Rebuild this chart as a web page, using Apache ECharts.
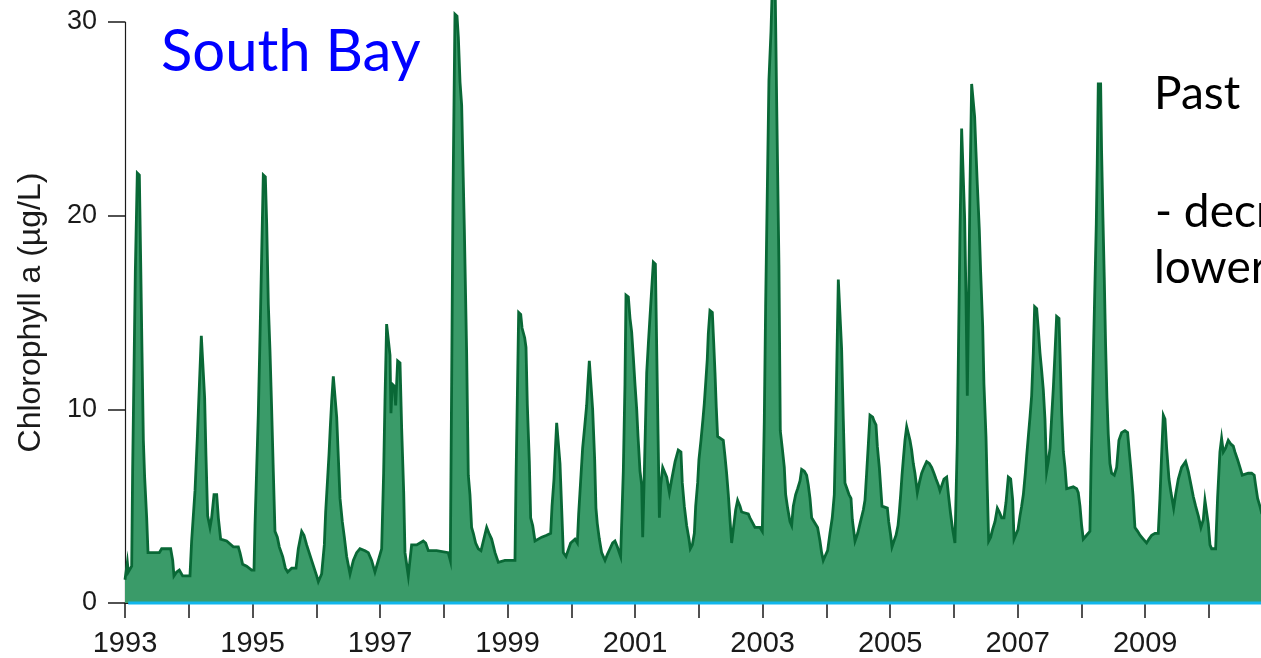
<!DOCTYPE html>
<html>
<head>
<meta charset="utf-8">
<script src="https://cdn.jsdelivr.net/npm/echarts@6/dist/echarts.min.js"></script>
<style>
  html, body { margin: 0; padding: 0; background: #ffffff; }
  #chart { width: 1261px; height: 658px; }
</style>
</head>
<body>
<div id="chart"></div>
<script>
// South Bay surface chlorophyll a, sampling dates as decimal years
const sampleYears = [
  1993.000,1993.037,1993.052,1993.105,1993.120,1993.141,1993.162,1993.193,1993.225,1993.246,1993.267,1993.288,1993.308,1993.340,1993.361,1993.538,1993.575,1993.716,1993.748,1993.768,1993.810,1993.852,1993.904,1994.019,
  1994.045,1994.098,1994.134,1994.166,1994.197,1994.228,1994.249,1994.270,1994.296,1994.333,1994.359,1994.396,1994.438,1994.464,1994.500,1994.594,1994.699,1994.777,1994.803,1994.845,1994.908,1994.986,
  1995.023,1995.039,1995.065,1995.091,1995.117,1995.143,1995.169,1995.201,1995.222,1995.248,1995.274,1995.300,1995.326,1995.352,1995.389,1995.420,1995.473,1995.515,1995.551,1995.614,1995.682,1995.718,1995.771,1995.807,1995.849,1995.927,
  1996.006,1996.032,1996.084,1996.126,1996.147,1996.179,1996.200,1996.220,1996.241,1996.267,1996.293,1996.320,1996.346,1996.372,1996.408,1996.440,1996.476,1996.529,1996.581,1996.633,1996.685,1996.764,1996.816,1996.868,1996.920,1996.973,
  1997.025,1997.056,1997.077,1997.103,1997.129,1997.156,1997.171,1997.192,1997.224,1997.245,1997.276,1997.313,1997.339,1997.371,1997.391,1997.417,1997.443,1997.469,1997.495,1997.574,1997.678,1997.715,1997.757,1997.887,
  1998.070,1998.102,1998.123,1998.144,1998.175,1998.207,1998.228,1998.254,1998.280,1998.322,1998.358,1998.384,1998.410,1998.436,1998.463,1998.499,1998.541,1998.583,1998.620,1998.672,1998.708,1998.750,1998.803,1998.855,1998.959,
  1999.116,1999.132,1999.153,1999.174,1999.206,1999.227,1999.268,1999.289,1999.310,1999.341,1999.362,1999.394,1999.430,1999.535,1999.613,1999.676,1999.697,1999.728,1999.749,1999.770,1999.796,1999.822,1999.848,1999.874,1999.916,1999.989,
  2000.057,2000.094,2000.115,2000.146,2000.177,2000.209,2000.240,2000.261,2000.282,2000.313,2000.334,2000.366,2000.386,2000.407,2000.439,2000.475,2000.528,2000.564,2000.606,2000.648,2000.684,2000.721,2000.773,2000.794,2000.815,2000.841,2000.857,2000.894,2000.920,2000.946,2000.972,2000.998,
  2001.025,2001.046,2001.077,2001.103,2001.119,2001.140,2001.161,2001.182,2001.208,2001.234,2001.260,2001.286,2001.318,2001.339,2001.360,2001.381,2001.402,2001.433,2001.496,2001.538,2001.575,2001.627,2001.677,2001.719,2001.740,2001.772,2001.808,2001.845,2001.866,2001.898,2001.929,2001.950,2001.981,
  2002.001,2002.033,2002.064,2002.085,2002.106,2002.132,2002.148,2002.174,2002.211,2002.232,2002.253,2002.273,2002.294,2002.383,2002.409,2002.435,2002.462,2002.488,2002.514,2002.540,2002.577,2002.608,2002.645,2002.671,2002.775,2002.801,2002.880,2002.958,2002.995,
  2003.026,2003.047,2003.073,2003.099,2003.131,2003.157,2003.194,2003.220,2003.256,2003.277,2003.308,2003.340,2003.361,2003.392,2003.429,2003.455,2003.481,2003.518,2003.549,2003.586,2003.612,2003.654,2003.690,2003.716,2003.743,2003.769,2003.862,2003.899,2003.925,2003.951,2003.977,
  2004.019,2004.056,2004.092,2004.124,2004.145,2004.166,2004.187,2004.218,2004.239,2004.265,2004.291,2004.323,2004.354,2004.386,2004.407,2004.449,2004.491,2004.527,2004.579,2004.605,2004.631,2004.658,2004.684,2004.726,2004.747,2004.778,2004.799,2004.830,2004.851,2004.872,2004.956,2004.977,
  2005.008,2005.029,2005.060,2005.092,2005.123,2005.144,2005.165,2005.186,2005.206,2005.232,2005.259,2005.290,2005.311,2005.337,2005.363,2005.389,2005.426,2005.457,2005.494,2005.530,2005.572,2005.614,2005.651,2005.687,2005.719,2005.755,2005.781,2005.813,2005.844,2005.886,2005.917,2005.948,2005.980,
  2006.016,2006.043,2006.053,2006.074,2006.095,2006.121,2006.147,2006.168,2006.189,2006.210,2006.231,2006.252,2006.278,2006.304,2006.325,2006.346,2006.367,2006.398,2006.419,2006.451,2006.471,2006.503,2006.524,2006.545,2006.576,2006.607,2006.644,2006.681,2006.712,2006.749,2006.785,2006.817,2006.853,2006.890,2006.922,2006.943,2006.974,
  2007.005,2007.036,2007.062,2007.089,2007.120,2007.141,2007.167,2007.193,2007.219,2007.245,2007.266,2007.298,2007.324,2007.350,2007.376,2007.402,2007.428,2007.454,2007.480,2007.507,2007.533,2007.559,2007.585,2007.611,2007.648,2007.664,2007.690,2007.716,2007.742,2007.768,2007.872,2007.925,2007.950,2007.977,
  2008.003,2008.029,2008.081,2008.133,2008.149,2008.170,2008.191,2008.212,2008.233,2008.248,2008.264,2008.301,2008.316,2008.337,2008.358,2008.379,2008.400,2008.421,2008.447,2008.473,2008.515,2008.552,2008.588,2008.630,2008.682,2008.724,2008.745,2008.776,2008.808,2008.839,2008.881,2008.918,2008.970,
  2009.022,2009.059,2009.101,2009.153,2009.205,2009.231,2009.258,2009.284,2009.310,2009.336,2009.373,2009.404,2009.446,2009.477,2009.519,2009.571,2009.634,2009.676,2009.718,2009.754,2009.791,2009.833,2009.874,2009.911,2009.937,2009.963,2009.989,
  2010.016,2010.042,2010.104,2010.136,2010.172,2010.198,2010.225,2010.261,2010.303,2010.345,2010.381,2010.407,2010.449,2010.486,2010.522,2010.616,2010.669,2010.710,2010.731,2010.763,2010.799,2010.830
];

// chlorophyll a, µg/L
const chlorophyll = [
  1.2,2.1,1.6,1.9,6.9,12.0,17.1,22.2,22.1,17.6,12.9,8.4,6.5,4.4,2.6,2.6,2.8,2.8,2.2,1.4,1.6,1.7,1.4,1.4,
  3.2,5.8,8.5,11.2,13.8,13.7,10.6,7.6,4.5,3.9,4.4,5.6,5.6,4.4,3.3,3.2,2.9,2.9,2.6,2.0,1.9,1.7,
  1.7,4.0,6.9,9.8,13.7,17.9,22.1,22.0,19.6,15.4,13.0,10.0,6.8,3.7,3.4,2.9,2.4,1.8,1.6,1.8,1.8,2.8,3.7,3.5,3.0,2.2,
  1.4,1.1,1.5,3.0,4.7,6.5,7.7,9.1,10.4,11.7,11.6,9.6,7.5,5.4,4.2,3.4,2.4,1.5,2.2,2.6,2.8,2.7,2.6,2.2,1.6,2.2,
  2.8,6.7,10.4,14.4,14.3,12.8,9.8,11.3,11.2,10.2,12.5,12.4,9.0,5.7,2.6,2.0,1.4,2.2,3.0,3.0,3.2,3.1,2.7,2.7,
  2.6,2.2,11.4,21.0,30.4,30.3,29.2,26.9,25.7,19.3,12.9,6.6,5.6,3.9,3.6,3.1,2.8,2.7,3.2,3.9,3.6,3.3,2.6,2.1,2.2,
  2.2,6.3,10.6,15.0,14.9,14.2,13.7,13.2,10.2,7.3,4.4,4.0,3.2,3.4,3.5,3.6,5.0,6.4,7.9,9.3,9.2,7.2,4.9,2.6,2.4,3.1,
  3.3,3.1,4.6,6.3,8.0,9.1,10.2,11.4,12.5,12.4,10.0,7.4,4.9,4.1,3.3,2.6,2.2,2.5,2.8,3.1,3.2,2.9,2.4,2.5,6.8,11.3,15.9,15.8,14.7,14.0,12.7,11.3,
  10.0,8.6,6.8,6.1,3.4,6.1,9.0,11.9,13.4,14.8,16.2,17.6,17.5,13.1,8.7,4.4,6.1,7.0,6.5,5.7,6.4,7.3,7.9,7.8,6.2,5.0,4.0,3.3,2.8,3.0,3.6,5.0,6.2,
  7.4,8.4,9.5,10.3,11.3,12.6,13.9,15.1,15.0,13.5,11.9,10.1,8.6,8.4,7.6,6.7,5.6,4.3,3.1,3.8,4.8,5.3,5.0,4.7,4.6,4.4,3.9,3.9,3.7,
  9.4,15.3,21.2,27.0,29.5,32.5,32.5,25.9,17.4,8.9,8.0,7.0,5.6,4.9,4.2,4.0,5.0,5.6,5.9,6.3,6.9,6.8,6.6,6.1,5.4,4.4,3.9,3.2,2.6,2.2,2.4,
  2.7,3.6,4.4,5.6,8.7,12.8,16.7,16.6,13.1,9.5,6.2,5.9,5.6,5.4,4.3,3.2,3.6,4.1,4.8,5.3,6.7,8.2,9.7,9.6,9.4,9.2,8.1,7.0,6.0,5.0,4.9,4.2,
  3.5,2.9,3.2,3.5,4.0,4.7,5.6,6.6,7.4,8.4,9.1,9.0,8.4,7.9,7.2,6.7,5.7,6.2,6.7,7.0,7.3,7.2,7.0,6.7,6.4,6.1,5.8,6.1,6.4,6.5,5.5,4.6,3.8,
  3.1,3.1,8.3,13.8,19.1,24.5,24.4,19.9,15.9,10.7,15.7,21.5,26.8,26.7,25.1,23.3,21.6,19.3,17.1,14.3,11.3,8.6,5.8,3.2,3.4,3.8,4.2,4.9,4.7,4.4,4.4,5.2,6.5,6.4,5.3,3.3,3.2,
  3.8,4.5,5.0,5.6,6.7,7.6,8.6,9.6,10.7,12.9,15.3,15.2,14.1,12.9,12.0,11.0,9.5,6.8,7.3,8.0,9.6,11.1,12.9,14.8,14.7,12.9,9.8,7.8,7.0,5.9,6.0,5.9,5.7,5.0,
  4.0,3.3,3.5,3.7,6.8,10.0,13.4,16.5,19.6,22.7,26.8,26.8,23.3,19.9,16.8,13.3,10.6,8.7,7.2,6.7,6.6,7.0,8.4,8.8,8.9,8.8,8.0,6.9,5.6,3.9,3.7,3.5,3.3,
  3.1,3.3,3.5,3.6,3.6,5.4,7.7,9.7,9.5,8.0,6.4,5.7,4.9,5.6,6.4,7.0,7.3,6.8,6.1,5.5,5.0,4.5,3.9,4.3,5.3,5.2,4.1,
  3.0,2.8,2.8,5.5,7.8,8.5,7.8,8.0,8.4,8.2,8.1,7.8,7.4,7.0,6.6,6.7,6.7,6.6,6.1,5.4,5.0,4.6
];

// axis ticks and labels
const yearTicksLabelled = [1993, 1995, 1997, 1999, 2001, 2003, 2005, 2007, 2009];
const yTickValues = [0, 10, 20, 30];
const baselineLevel = 0;
const axisStart = 1993;
const axisEnd = 2010.816;

const chlSeries = sampleYears.map((t, i) => [t, chlorophyll[i]]);

const chart = echarts.init(document.getElementById('chart'), null, { renderer: 'canvas' });

chart.setOption({
  animation: false,
  backgroundColor: '#ffffff',
  grid: { left: 125, right: 0, top: 22, bottom: 55, containLabel: false },
  xAxis: {
    type: 'value',
    min: axisStart,
    max: axisEnd,
    interval: 1,
    splitLine: { show: false },
    axisLine: { show: true, onZero: true, lineStyle: { color: '#1a1a1a', width: 1.2 } },
    axisTick: { show: true, inside: false, length: 15, lineStyle: { color: '#1a1a1a', width: 1.5 } },
    axisLabel: {
      show: true,
      margin: 26,
      showMaxLabel: false,
      fontFamily: 'Liberation Sans',
      fontSize: 29,
      color: '#1a1a1a',
      formatter: function (v) {
        const r = Math.round(v);
        if (Math.abs(v - r) > 1e-6) return '';
        return yearTicksLabelled.indexOf(r) >= 0 ? String(r) : '';
      }
    }
  },
  yAxis: {
    type: 'value',
    min: yTickValues[0],
    max: yTickValues[yTickValues.length - 1],
    interval: 10,
    name: 'Chlorophyll a (µg/L)',
    nameLocation: 'middle',
    nameGap: 78,
    nameRotate: 90,
    nameTextStyle: { fontFamily: 'Liberation Sans', fontSize: 32, color: '#1a1a1a' },
    splitLine: { show: false },
    axisLine: { show: true, lineStyle: { color: '#1a1a1a', width: 1.2 } },
    axisTick: { show: true, inside: false, length: 17, lineStyle: { color: '#1a1a1a', width: 1.5 } },
    axisLabel: { margin: 28, fontFamily: 'Liberation Sans', fontSize: 27, color: '#1a1a1a' }
  },
  series: [
    {
      name: 'Chlorophyll a',
      type: 'line',
      data: chlSeries,
      symbol: 'none',
      clip: false,
      z: 2,
      lineStyle: { color: '#096836', width: 2.8, join: 'miter' },
      areaStyle: { color: '#3a9b69', opacity: 1 }
    },
    {
      name: 'baseline',
      type: 'line',
      data: [[axisStart + 0.05, baselineLevel], [axisEnd, baselineLevel]],
      symbol: 'none',
      clip: false,
      z: 3,
      lineStyle: { color: '#10b6ec', width: 3 }
    }
  ],
  graphic: [
    { type: 'text', left: 161, top: 23, z: 10,
      style: { text: 'South Bay', font: '58px Lato', fill: '#0000ff' } },
    { type: 'text', left: 1154, top: 71, z: 10,
      style: { text: 'Past', font: '46px Lato', fill: '#000000' } },
    { type: 'text', left: 1155, top: 189, z: 10,
      style: { text: '- decreasing', font: '46px Lato', fill: '#000000' } },
    { type: 'text', left: 1154, top: 245, z: 10,
      style: { text: 'lower', font: '46px Lato', fill: '#000000' } }
  ]
});
</script>
</body>
</html>
